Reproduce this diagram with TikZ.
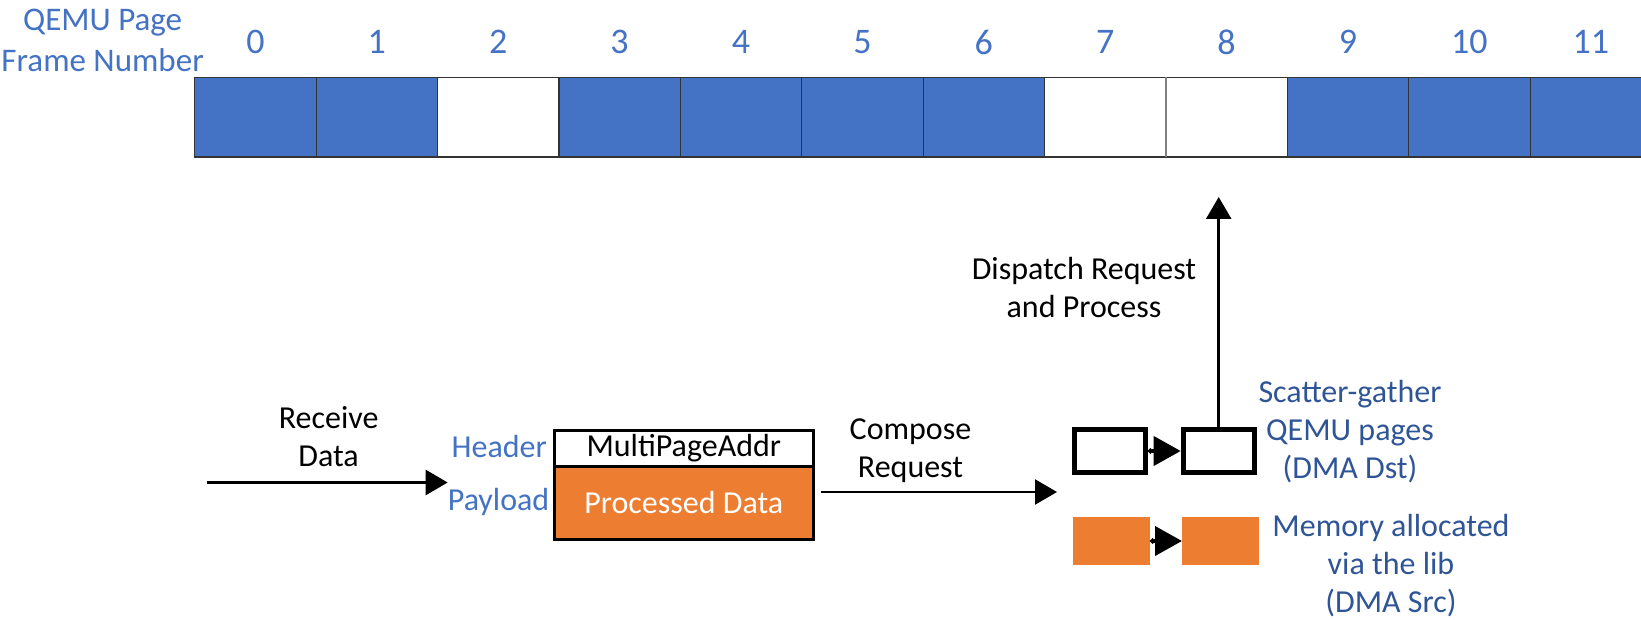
\documentclass[tikz,border=0pt]{standalone}
\usepackage{fontspec}
\setmainfont{Carlito}
\usetikzlibrary{arrows.meta}
\definecolor{qblue}{HTML}{4472C4}
\definecolor{qdark}{HTML}{2F5597}
\definecolor{qorange}{HTML}{ED7D31}
\begin{document}
\begin{tikzpicture}[x=1pt,y=-1pt,
  cell/.style={draw=black!80, line width=1.2pt, minimum width=121.4pt, minimum height=79.5pt, inner sep=0pt, outer sep=0pt},
  numlbl/.style={text=qblue, font=\fontsize{36}{42}\selectfont, inner sep=0pt},
  lbl/.style={font=\fontsize{32}{38}\selectfont, align=center, inner sep=0pt},
  bigarr/.style={-{Triangle[length=22pt,width=25pt]}, line width=2.5pt},
  smallarr/.style={{Circle[length=5pt]}-{Triangle[length=27pt,width=29pt]}, line width=4pt},
  sgbox/.style={draw=black, line width=5pt, minimum width=71pt, minimum height=43pt, inner sep=0pt, fill=white},
  obox/.style={fill=qorange, minimum width=77pt, minimum height=48pt, inner sep=0pt},
]
\path[use as bounding box] (0,0) rectangle (1641,620);
\clip (0,0) rectangle (1641,620);
\fill[white] (0,0) rectangle (1641,620);

% page frames
\foreach \i/\f in {0/qblue,1/qblue,2/white,3/qblue,4/qblue,5/qblue,6/qblue,7/white,8/white,9/qblue,10/qblue,11/qblue}{
  \node[cell, fill=\f] (c\i) at ({255.4+121.4*\i},117.25) {};
  \node[numlbl] (n\i) at ({255.4+121.4*\i},42) {\i};
}
\draw[gray, line width=1.2pt] (c7.north east) -- (c7.south east);
\node[lbl, text=qblue, font=\fontsize{33}{41}\selectfont] (qlabel) at (102.6,40) {QEMU Page\\Frame Number};

% packet
\node[draw=black, line width=3pt, minimum width=259.4pt, minimum height=36pt, inner sep=0pt, fill=white, font=\fontsize{32}{38}\selectfont] (hdr) at (683.8,448) {MultiPageAddr};
\node[draw=black, line width=3pt, minimum width=259.4pt, minimum height=73pt, inner sep=0pt, fill=qorange, text=white, font=\fontsize{32}{38}\selectfont] (pay) at (683.8,502.5) {Processed Data};
\node[lbl, text=qblue, anchor=east] (hlbl) at (547,447) {Header};
\node[lbl, text=qblue, anchor=east] (plbl) at (549.5,502) {Payload};

% receive
\coordinate (rin) at (207,482.5);
\draw[bigarr] (rin) -- (rin -| plbl.west);
\node[lbl] (rlbl) at (328.6,437) {Receive\\Data};

% compose
\coordinate (cs) at (820.5,492);
\coordinate (ce) at (1057,492);
\draw[bigarr] (cs) -- (ce);
\node[lbl] (clbl) at (910.5,451) {Compose\\Request};

% scatter-gather boxes
\node[sgbox] (sg1) at (1109.8,451) {};
\node[sgbox] (sg2) at (1218.7,451) {};
\draw[smallarr] (sg1.east) -- (sg2.west);
\node[obox] (o1) at (1111.4,541) {};
\node[obox] (o2) at (1220.7,541) {};
\draw[smallarr] (o1.east) -- (o2.west);

% dispatch
\coordinate (dtop) at (1218.7,197);
\draw[bigarr] ([yshift=-4pt]sg2.north) -- (dtop);
\node[lbl] (dlbl) at (1084,288) {Dispatch Request\\and Process};

\node[lbl, text=qdark] (sglbl) at (1350,432) {Scatter-gather\\QEMU pages\\(DMA Dst)};
\node[lbl, text=qdark] (mlbl) at (1391,566) {Memory allocated\\via the lib\\(DMA Src)};
\end{tikzpicture}
\end{document}
